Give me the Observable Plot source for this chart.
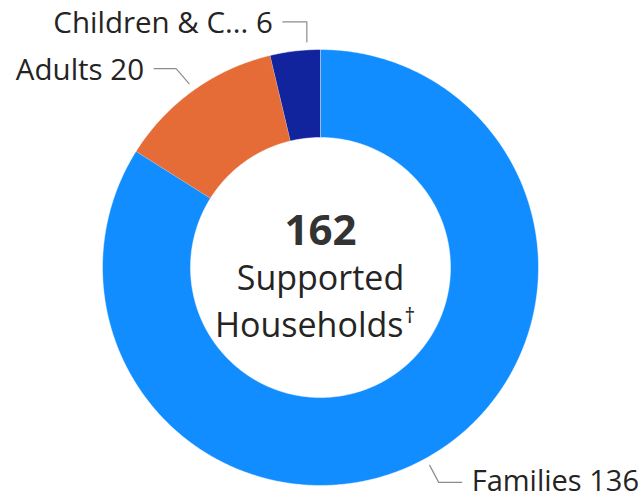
<!DOCTYPE html>
<html>
<head>
<meta charset="utf-8">
<script src="https://cdn.jsdelivr.net/npm/d3@7"></script>
<script src="https://cdn.jsdelivr.net/npm/@observablehq/plot@0.6"></script>
<style>
  html, body { margin: 0; padding: 0; background: #fff; }
  svg { display: block; }
</style>
</head>
<body>
<div id="chart"></div>
<script>
// ---- data ----
const categories = ["Families", "Adults", "Children & C..."];
const values = [136, 20, 6];
const colors = ["#118DFF", "#E66C37", "#12239E"];
const centerLines = ["Supported", "Households"];
const centerMark = "†";

// ---- layout ----
const W = 643, H = 499;
const cx = 320, cy = 267, R = 218, r = 130;
const FONT = "'Segoe UI', 'Open Sans', 'Noto Sans', sans-serif";
// leader layout per label: angle nudge (deg), elbow offset, horizontal length, side, text nudge
const leaderLayout = {
  "Families": {nudge: 0, ex: 9, ey: 17, len: 23, side: 1, ty: -1},
  "Adults": {nudge: 0, ex: -13, ey: -15, len: 22, side: -1, ty: 2},
  "Children & C...": {nudge: 3.2, ex: 0, ey: -20, len: 24, side: -1, ty: 2}
};

const total = d3.sum(values);
const rows = categories.map((c, i) => ({cat: c, value: values[i]}));
const pie = d3.pie().value(d => d.value).sort(null)(rows);

const px = (a, rad) => cx + rad * Math.sin(a);
const py = (a, rad) => cy - rad * Math.cos(a);

// slice polygons
const slicePts = [];
pie.forEach(p => {
  const n = Math.max(8, Math.ceil((p.endAngle - p.startAngle) / (Math.PI / 360)));
  for (let k = 0; k <= n; k++) {
    const a = p.startAngle + (p.endAngle - p.startAngle) * k / n;
    slicePts.push({cat: p.data.cat, x: px(a, R), y: py(a, R)});
  }
  for (let k = n; k >= 0; k--) {
    const a = p.startAngle + (p.endAngle - p.startAngle) * k / n;
    slicePts.push({cat: p.data.cat, x: px(a, r), y: py(a, r)});
  }
});

// leaders and labels
const leaderPts = [];
const labels = [];
pie.forEach(p => {
  const L = leaderLayout[p.data.cat];
  const mid = (p.startAngle + p.endAngle) / 2 + L.nudge * Math.PI / 180;
  const sx = px(mid, R + 8), sy = py(mid, R + 8);
  const ex = sx + L.ex, ey = sy + L.ey;
  const hx = ex + L.side * L.len;
  leaderPts.push({cat: p.data.cat, x: sx, y: sy}, {cat: p.data.cat, x: ex, y: ey}, {cat: p.data.cat, x: hx, y: ey});
  labels.push({text: `${p.data.cat} ${p.data.value}`, x: hx + L.side * 10, y: ey + L.ty, anchor: L.side > 0 ? "start" : "end"});
});

const chart = Plot.plot({
  width: W,
  height: H,
  margin: 0,
  x: {domain: [0, W], range: [0, W], axis: null},
  y: {domain: [0, H], range: [0, H], axis: null},
  color: {domain: categories, range: colors},
  style: {fontFamily: FONT, background: "#fff"},
  marks: [
    Plot.line(slicePts, {x: "x", y: "y", z: "cat", fill: "cat", stroke: "#fff", strokeWidth: 0.6, strokeOpacity: 0.8}),
    Plot.line(leaderPts, {x: "x", y: "y", z: "cat", stroke: "#8c8c8c", strokeWidth: 1.2}),
    Plot.text(labels.filter(d => d.anchor === "start"), {x: "x", y: "y", text: "text", textAnchor: "start", fontSize: 29, fill: "#252423"}),
    Plot.text(labels.filter(d => d.anchor === "end"), {x: "x", y: "y", text: "text", textAnchor: "end", fontSize: 29.5, fill: "#252423"}),
    Plot.text([total], {x: () => cx, y: () => cy - 36, text: d => String(d), fontSize: 42, fontWeight: "bold", fill: "#333333"}),
    Plot.text([centerLines[0]], {x: () => cx, y: () => cy + 12, text: d => d, fontSize: 34, fill: "#252423"}),
    Plot.text([centerLines[1]], {x: () => cx + 83, y: () => cy + 59, text: d => d, textAnchor: "end", fontSize: 34, fill: "#252423"}),
    Plot.text([centerMark], {x: () => cx + 84, y: () => cy + 59, dy: -10, text: d => d, textAnchor: "start", fontSize: 21, fill: "#252423"})
  ]
});
document.getElementById("chart").append(chart);
</script>
</body>
</html>
